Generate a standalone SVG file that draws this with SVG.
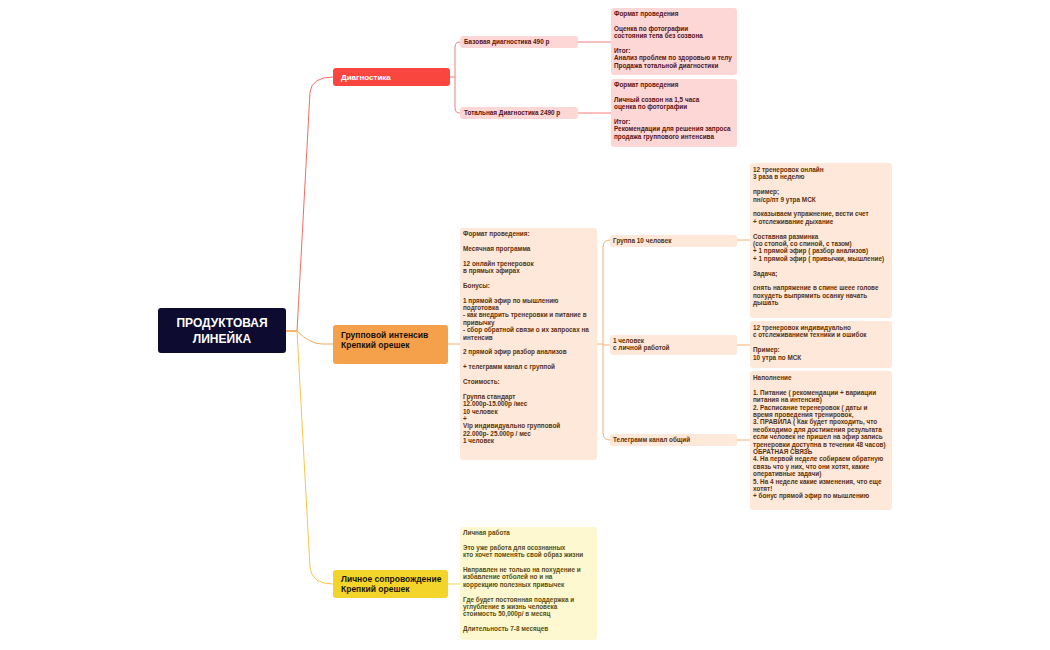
<svg xmlns="http://www.w3.org/2000/svg" width="1050" height="650" viewBox="0 0 1050 650">
<style>
text{font-family:"Liberation Sans",Arial,sans-serif;font-weight:bold}
.s{font-size:6.4px}
.r{fill:#5a1414}.o{fill:#5a3210}.y{fill:#5a4e10}
.c{fill:none;stroke-width:1}
</style>
<rect width="1050" height="650" fill="#fff"/>
<g id="connectors">
<path class="c" stroke="#f86a60" d="M286,331 L297,331 L310,92 Q312,77 333,77"/>
<path class="c" stroke="#f7c64a" d="M286,331 L297,331 L310,568 Q312,584 333,584"/>
<path class="c" stroke="#f6a860" d="M286,331 L297,331 Q310,344 322,344 L333,344"/>
<path class="c" stroke="#f47f7a" d="M450,77 L455,77 M460,42 Q455,42 455,47 L455,108 Q455,113 460,113"/>
<path class="c" stroke="#f47f7a" d="M578,42 L611,42 M578,113 L611,113"/>
<path class="c" stroke="#f6b070" d="M448,344 L460,344 M597,344 L603,344 M610,240 Q603,240 603,247 L603,433 Q603,440 610,440 M603,345 L610,345"/>
<path class="c" stroke="#f6b070" d="M737,240 L750,240 M737,345 L750,345 M737,440 L750,440"/>
<path class="c" stroke="#f3d64a" d="M448,584 L460,584"/>
</g>
<g id="root"><rect x="158" y="308" width="128" height="45" rx="3" fill="#0d0c30"/>
<text x="222" y="327" font-size="12" fill="#fff" text-anchor="middle">ПРОДУКТОВАЯ</text>
<text x="222" y="343" font-size="12" fill="#fff" text-anchor="middle">ЛИНЕЙКА</text></g>
<g id="diag"><rect x="333" y="68" width="117" height="18" rx="3" fill="#f94740"/>
<text x="341" y="80" font-size="8" fill="#fff">Диагностика</text></g>
<g id="group"><rect x="333" y="325" width="115" height="39" rx="3" fill="#f5a04a"/>
<text x="341" y="338" font-size="8.5" fill="#1a1008">Групповой интенсив</text>
<text x="341" y="348" font-size="8.5" fill="#1a1008">Крепкий орешек</text></g>
<g id="personal"><rect x="333" y="570" width="115" height="28" rx="3" fill="#f3d42a"/>
<text x="341" y="582" font-size="8.5" fill="#1a1408">Личное сопровождение</text>
<text x="341" y="592" font-size="8.5" fill="#1a1408">Крепкий орешек</text></g>
<g id="basic"><rect x="460" y="36" width="118" height="12" rx="3" fill="#fdd6d6"/>
<text class="s r" x="464" y="44">Базовая диагностика 490 р</text></g>
<g id="total"><rect x="460" y="107" width="118" height="12" rx="3" fill="#fdd6d6"/>
<text class="s r" x="464" y="115">Тотальная Диагностика 2490 р</text></g>
<g id="basic-info"><rect x="611" y="8" width="126" height="67" rx="3" fill="#fdd6d6"/>
<text class="s r" x="614" y="16"><tspan x="614">Формат проведения</tspan><tspan x="614" dy="14.8">Оценка по фотографии</tspan><tspan x="614" dy="7.4">состояния тепа без созвона</tspan><tspan x="614" dy="14.8">Итог:</tspan><tspan x="614" dy="7.4">Анализ проблем по здоровью и телу</tspan><tspan x="614" dy="7.4">Продажа тотальной диагностики</tspan></text></g>
<g id="total-info"><rect x="611" y="79" width="126" height="68" rx="3" fill="#fdd6d6"/>
<text class="s r" x="614" y="87"><tspan x="614">Формат проведения</tspan><tspan x="614" dy="14.8">Личный созвон на 1,5 часа</tspan><tspan x="614" dy="7.4">оценка по фотографии</tspan><tspan x="614" dy="14.8">Итог:</tspan><tspan x="614" dy="7.4">Рекомендации для решения запроса</tspan><tspan x="614" dy="7.4">продажа группового интенсива</tspan></text></g>
<g id="group-info"><rect x="460" y="228" width="137" height="232" rx="3" fill="#fde8d9"/>
<text class="s o" x="463" y="236"><tspan x="463">Формат проведения:</tspan><tspan x="463" dy="14.8">Месячная программа</tspan><tspan x="463" dy="14.8">12 онлайн тренеровок</tspan><tspan x="463" dy="7.4">в прямых эфирах</tspan><tspan x="463" dy="14.8">Бонусы:</tspan><tspan x="463" dy="14.8">1 прямой эфир по мышлению</tspan><tspan x="463" dy="7.4">подготовка</tspan><tspan x="463" dy="7.4">- как внедрить тренеровки и питание в</tspan><tspan x="463" dy="7.4">привычку</tspan><tspan x="463" dy="7.4">- сбор обратной связи о их запросах на</tspan><tspan x="463" dy="7.4">интенсив</tspan><tspan x="463" dy="14.8">2 прямой эфир разбор анализов</tspan><tspan x="463" dy="14.8">+ телеграмм канал с группой</tspan><tspan x="463" dy="14.8">Стоимость:</tspan><tspan x="463" dy="14.8">Группа стандарт</tspan><tspan x="463" dy="7.4">12.000р-15.000р /мес</tspan><tspan x="463" dy="7.4">10 человек</tspan><tspan x="463" dy="7.4">+</tspan><tspan x="463" dy="7.4">Vip индивидуально групповой</tspan><tspan x="463" dy="7.4">22.000р- 25.000р / мес</tspan><tspan x="463" dy="7.4">1 человек</tspan></text></g>
<g id="g10"><rect x="610" y="235" width="127" height="12" rx="3" fill="#fde8d9"/>
<text class="s o" x="613" y="243">Группа 10 человек</text></g>
<g id="g1"><rect x="610" y="335" width="127" height="20" rx="3" fill="#fde8d9"/>
<text class="s o" x="613" y="343"><tspan x="613">1 человек</tspan><tspan x="613" dy="7.4">с личной работой</tspan></text></g>
<g id="tg"><rect x="610" y="434" width="127" height="12" rx="3" fill="#fde8d9"/>
<text class="s o" x="613" y="442">Телеграмм канал общий</text></g>
<g id="g10-info"><rect x="750" y="163" width="142" height="155" rx="3" fill="#fde8d9"/>
<text class="s o" x="753" y="172"><tspan x="753">12 тренеровок онлайн</tspan><tspan x="753" dy="7.4">3 раза в неделю</tspan><tspan x="753" dy="14.8">пример;</tspan><tspan x="753" dy="7.4">пн/ср/пт 9 утра МСК</tspan><tspan x="753" dy="14.8">показываем упражнение, вести счет</tspan><tspan x="753" dy="7.4">+ отслеживание дыхание</tspan><tspan x="753" dy="14.8">Составная разминка</tspan><tspan x="753" dy="7.4">(со стопой, со спиной, с тазом)</tspan><tspan x="753" dy="7.4">+ 1 прямой эфир ( разбор анализов)</tspan><tspan x="753" dy="7.4">+ 1  прямой эфир ( привычки, мышление)</tspan><tspan x="753" dy="14.8">Задача;</tspan><tspan x="753" dy="14.8">снять напряжение в спине шеее голове</tspan><tspan x="753" dy="7.4">похудеть выпрямить осанку начать</tspan><tspan x="753" dy="7.4">дышать</tspan></text></g>
<g id="g1-info"><rect x="750" y="321" width="142" height="47" rx="3" fill="#fde8d9"/>
<text class="s o" x="753" y="330"><tspan x="753">12 тренеровок индивидуально</tspan><tspan x="753" dy="7.4">с отслеживанием техники и ошибок</tspan><tspan x="753" dy="14.8">Пример:</tspan><tspan x="753" dy="7.4">10 утра по МСК</tspan></text></g>
<g id="tg-info"><rect x="750" y="371" width="142" height="139" rx="3" fill="#fde8d9"/>
<text class="s o" x="753" y="380"><tspan x="753">Наполнение</tspan><tspan x="753" dy="14.8">1. Питание ( рекомендации + вариации</tspan><tspan x="753" dy="7.4">питания на интенсив)</tspan><tspan x="753" dy="7.4">2. Расписание теренеровок  ( даты и</tspan><tspan x="753" dy="7.4">время проведения тренировок,</tspan><tspan x="753" dy="7.4">3. ПРАВИЛА ( Как будет проходить, что</tspan><tspan x="753" dy="7.4">необходимо для достижения результата</tspan><tspan x="753" dy="7.4">если человек не пришел на эфир запись</tspan><tspan x="753" dy="7.4">тренеровки доступна в течении 48 часов)</tspan><tspan x="753" dy="7.4">ОБРАТНАЯ СВЯЗЬ</tspan><tspan x="753" dy="7.4">4. На первой неделе собираем обратную</tspan><tspan x="753" dy="7.4">связь что у них, что они хотят, какие</tspan><tspan x="753" dy="7.4">оперативные задачи)</tspan><tspan x="753" dy="7.4">5. На 4 неделе какие изменения, что еще</tspan><tspan x="753" dy="7.4">хотят!</tspan><tspan x="753" dy="7.4">+ бонус прямой эфир по мышлению</tspan></text></g>
<g id="personal-info"><rect x="460" y="527" width="137" height="113" rx="3" fill="#fdf8d0"/>
<text class="s y" x="463" y="535"><tspan x="463">Личная работа</tspan><tspan x="463" dy="14.8">Это уже работа для осознанных</tspan><tspan x="463" dy="7.4">кто хочет поменять свой образ жизни</tspan><tspan x="463" dy="14.8">Направлен не только на похудение и</tspan><tspan x="463" dy="7.4">избавление отболей но и на</tspan><tspan x="463" dy="7.4">коррекцию полезных привычек</tspan><tspan x="463" dy="14.8">Где будет постоянная поддержка и</tspan><tspan x="463" dy="7.4">углубление в жизнь человека</tspan><tspan x="463" dy="7.4">стоимость 50,000р/ в месяц</tspan><tspan x="463" dy="14.8">Длительность 7-8 месяцев</tspan></text></g>
</svg>
